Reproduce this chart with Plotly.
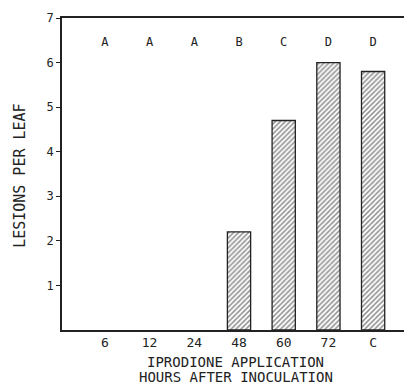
import plotly.graph_objects as go

categories = ["6", "12", "24", "48", "60", "72", "C"]
lesions = [0, 0, 0, 2.2, 4.7, 6.0, 5.8]
groups = ["A", "A", "A", "B", "C", "D", "D"]
y_ticks = [1, 2, 3, 4, 5, 6, 7]
x_title = ["IPRODIONE APPLICATION", "HOURS AFTER INOCULATION"]
y_title = "LESIONS PER LEAF"

FONT = "DejaVu Sans Mono"
INK = "#222222"

fig = go.Figure()
fig.add_trace(go.Bar(
    x=categories, y=lesions, width=0.52,
    marker=dict(color="white",
                line=dict(color=INK, width=[1.3 if v > 0 else 0 for v in lesions]),
                pattern=dict(shape="/", fgcolor=INK, bgcolor="white", size=3.5, solidity=0.45)),
    showlegend=False, hoverinfo="skip",
))
fig.add_trace(go.Scatter(
    x=categories, y=[6.45] * len(categories), mode="text", text=groups,
    textfont=dict(family=FONT, size=12, color=INK), showlegend=False, hoverinfo="skip",
))

# page body has an 8px default margin: figure is sized/offset to compensate
fig.update_layout(
    width=404, height=378,
    margin=dict(l=54, r=0, t=10, b=56),
    paper_bgcolor="white", plot_bgcolor="white",
    font=dict(family=FONT, size=12, color=INK),
    annotations=[
        dict(text=x_title[0], xref="paper", yref="paper", x=0.497, y=-0.1026,
             yanchor="middle", showarrow=False, font=dict(family=FONT, size=14, color=INK)),
        dict(text=x_title[1], xref="paper", yref="paper", x=0.497, y=-0.1506,
             yanchor="middle", showarrow=False, font=dict(family=FONT, size=14, color=INK)),
        dict(text=y_title, xref="paper", yref="paper", x=-0.12, y=0.494, textangle=-90,
             xanchor="center", yanchor="middle", showarrow=False,
             font=dict(family=FONT, size=15, color=INK)),
    ],
)
fig.update_xaxes(
    type="category", range=[-0.96, 6.87], automargin=False,
    showline=True, linecolor=INK, linewidth=1.5, mirror=True,
    ticks="", showgrid=False, zeroline=False,
    tickfont=dict(family=FONT, size=13, color=INK),
)
fig.update_yaxes(
    range=[0, 7], tickvals=y_ticks, ticktext=[str(v) for v in y_ticks], automargin=False,
    showline=True, linecolor=INK, linewidth=1.5,
    ticks="outside", ticklen=4, tickcolor=INK, tickwidth=1,
    showgrid=False, zeroline=False,
    tickfont=dict(family=FONT, size=12, color=INK),
)

fig.write_html("out.html")
